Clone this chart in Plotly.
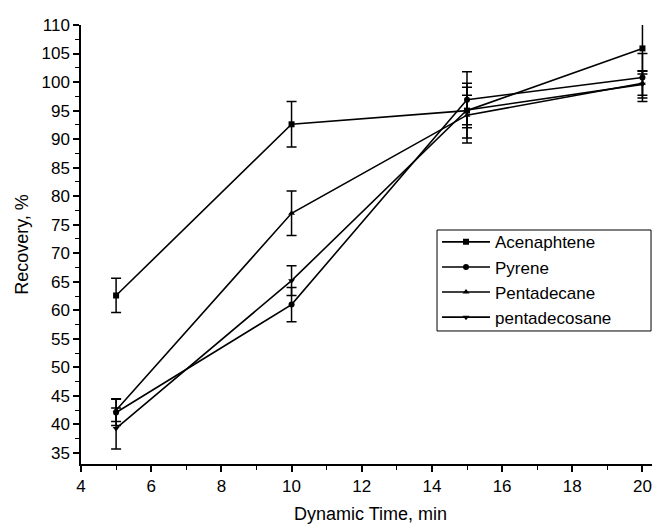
import plotly.graph_objects as go

times = [5, 10, 15, 20]
series_names = ["Acenaphtene", "Pyrene", "Pentadecane", "pentadecosane"]
acenaphtene = [62.6, 92.6, 95.0, 105.9]
acenaphtene_err = [3.0, 4.0, 4.8, 4.5]
pyrene = [42.1, 61.0, 96.9, 100.8]
pyrene_err = [2.3, 3.0, 4.9, 4.2]
pentadecane = [42.5, 77.0, 94.2, 99.8]
pentadecane_err = [2.0, 3.9, 4.9, 2.1]
pentadecosane = [39.3, 65.2, 95.1, 99.6]
pentadecosane_err = [3.6, 2.6, 2.6, 2.4]
symbols = ["square", "circle", "triangle-up", "triangle-down"]
x_ticks = [4, 6, 8, 10, 12, 14, 16, 18, 20]
y_ticks = [35, 40, 45, 50, 55, 60, 65, 70, 75, 80, 85, 90, 95, 100, 105, 110]

values = [acenaphtene, pyrene, pentadecane, pentadecosane]
errors = [acenaphtene_err, pyrene_err, pentadecane_err, pentadecosane_err]

FONT = "Arial, Liberation Sans, sans-serif"

fig = go.Figure()
for name, v, e, s in zip(series_names, values, errors, symbols):
    fig.add_trace(go.Scatter(
        x=times, y=v, name=name, mode="lines+markers",
        line=dict(color="black", width=1.6),
        marker=dict(symbol=s, size=6, color="black"),
        error_y=dict(type="data", array=e, visible=True, color="black",
                     thickness=1.5, width=5),
        cliponaxis=True,
    ))

# legend frame
fig.add_shape(type="rect", xref="paper", yref="paper",
              x0=0.6149, x1=0.9845, y0=0.303, y1=0.533,
              line=dict(color="black", width=1), fillcolor="rgba(0,0,0,0)")

fig.update_layout(
    width=652, height=518,
    margin=dict(l=73, r=0, t=17, b=62),
    paper_bgcolor="white", plot_bgcolor="white",
    font=dict(family=FONT, size=17, color="black"),
    showlegend=True,
    legend=dict(
        x=0.6149, y=0.546, xanchor="left", yanchor="top",
        borderwidth=0, bgcolor="rgba(0,0,0,0)",
        font=dict(family=FONT, size=17, color="black"),
        itemwidth=48, tracegroupgap=0,
    ),
)
fig.update_xaxes(
    range=[4, 20.5], tickvals=x_ticks, ticktext=[str(t) for t in x_ticks],
    showline=True, linecolor="black", linewidth=1.5, mirror=False,
    ticks="outside", ticklen=6, tickwidth=1.5, tickcolor="black",
    minor=dict(dtick=1, tick0=4, ticks="outside", ticklen=4, tickwidth=1.2, tickcolor="black"),
    showgrid=False, zeroline=False,
    title=dict(text="Dynamic Time, min", font=dict(size=18), standoff=12),
    automargin=False,
)
fig.update_yaxes(
    range=[33.07, 110.0], tickvals=y_ticks, ticktext=[str(t) for t in y_ticks],
    showline=True, linecolor="black", linewidth=1.5, mirror=False,
    ticks="outside", ticklen=6, tickwidth=1.5, tickcolor="black",
    minor=dict(dtick=2.5, tick0=35, ticks="outside", ticklen=4, tickwidth=1.2, tickcolor="black"),
    showgrid=False, zeroline=False,
    title=dict(text="Recovery, %", font=dict(size=18), standoff=8),
    automargin=False,
)

fig.write_html("out.html")
